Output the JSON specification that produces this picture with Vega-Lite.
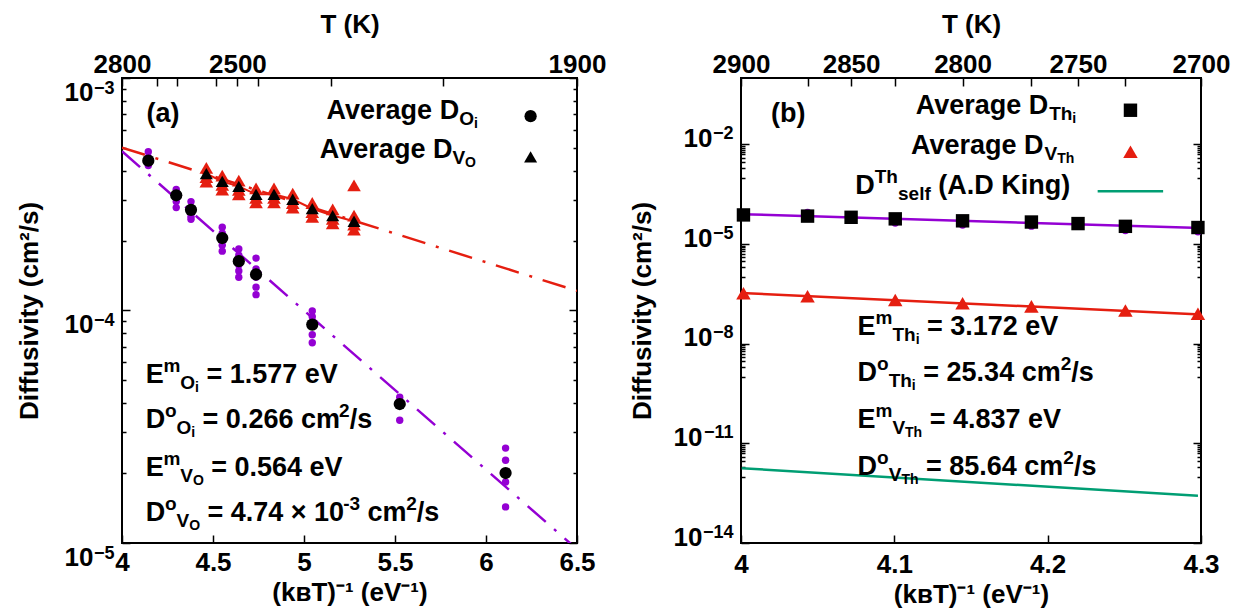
{
"$schema": "https://vega.github.io/schema/vega-lite/v6.json",
"padding": {"left": 15, "top": 10, "right": 0, "bottom": 0},
"background": "white",
"spacing": 21,
"config": {
  "font": "Liberation Sans",
  "view": {"stroke": "black", "strokeWidth": 2},
  "axis": {"domain": false, "grid": false, "labelFont": "Liberation Sans", "labelFontWeight": "bold", "labelFontSize": 26, "labelColor": "black", "titleFont": "Liberation Sans", "titleFontWeight": "bold", "titleFontSize": 26, "titleColor": "black", "tickColor": "black", "tickWidth": 1.5, "labelOverlap": false, "labelFlush": false}
},
"datasets": {
  "fitA": [
    {"s": "V", "x": 4, "y": 0.000502}, {"s": "V", "x": 6.5, "y": 0.0001214},
    {"s": "O", "x": 4, "y": 0.000484}, {"s": "O", "x": 6.5, "y": 0.0000094}
  ],
  "triA": [
    {"x": 4.4633, "y": 0.000388, "leg": 0}, {"x": 4.5508, "y": 0.000359, "leg": 0}, {"x": 4.6418, "y": 0.000342, "leg": 0},
    {"x": 4.7365, "y": 0.000316, "leg": 0}, {"x": 4.8352, "y": 0.000316, "leg": 0}, {"x": 4.9381, "y": 0.000301, "leg": 0},
    {"x": 5.0454, "y": 0.000274, "leg": 0}, {"x": 5.1576, "y": 0.000256, "leg": 0}, {"x": 5.2748, "y": 0.000242, "leg": 0},
    {"x": 6.245, "y": 0.000458, "leg": 1}
  ],
  "redA": [
    {"x": 4.4633, "y": 0.000411}, {"x": 4.4633, "y": 0.000375}, {"x": 4.4633, "y": 0.000358},
    {"x": 4.5508, "y": 0.000380}, {"x": 4.5508, "y": 0.000347}, {"x": 4.5508, "y": 0.000331},
    {"x": 4.6418, "y": 0.000362}, {"x": 4.6418, "y": 0.000330}, {"x": 4.6418, "y": 0.000316},
    {"x": 4.7365, "y": 0.000335}, {"x": 4.7365, "y": 0.000305}, {"x": 4.7365, "y": 0.000292},
    {"x": 4.8352, "y": 0.000335}, {"x": 4.8352, "y": 0.000305}, {"x": 4.8352, "y": 0.000292},
    {"x": 4.9381, "y": 0.000318}, {"x": 4.9381, "y": 0.000290}, {"x": 4.9381, "y": 0.000277},
    {"x": 5.0454, "y": 0.000290}, {"x": 5.0454, "y": 0.000265}, {"x": 5.0454, "y": 0.000253},
    {"x": 5.1576, "y": 0.000272}, {"x": 5.1576, "y": 0.000248}, {"x": 5.1576, "y": 0.000237},
    {"x": 5.2748, "y": 0.000256}, {"x": 5.2748, "y": 0.000234}, {"x": 5.2748, "y": 0.000223},
    {"x": 5.2748, "y": 0.000345}
  ],
  "circA": [
    {"x": 4.1445, "y": 0.000441}, {"x": 4.298, "y": 0.000313}, {"x": 4.3791, "y": 0.000271},
    {"x": 4.5508, "y": 0.000205}, {"x": 4.6418, "y": 0.000163}, {"x": 4.7365, "y": 0.000143},
    {"x": 5.0454, "y": 0.000087}, {"x": 5.526, "y": 0.0000396}, {"x": 6.1076, "y": 0.00002},
    {"x": 6.245, "y": 0.000685}
  ],
  "purpA": [
    {"x": 4.1445, "y": 0.000482}, {"x": 4.1445, "y": 0.000455}, {"x": 4.1445, "y": 0.00042},
    {"x": 4.298, "y": 0.000332}, {"x": 4.298, "y": 0.000318}, {"x": 4.298, "y": 0.000294}, {"x": 4.298, "y": 0.000277},
    {"x": 4.3791, "y": 0.000294}, {"x": 4.3791, "y": 0.000277}, {"x": 4.3791, "y": 0.000254}, {"x": 4.3791, "y": 0.000247},
    {"x": 4.5508, "y": 0.000228}, {"x": 4.5508, "y": 0.000215}, {"x": 4.5508, "y": 0.000191}, {"x": 4.5508, "y": 0.00018},
    {"x": 4.6418, "y": 0.000184}, {"x": 4.6418, "y": 0.000173}, {"x": 4.6418, "y": 0.000157}, {"x": 4.6418, "y": 0.000148}, {"x": 4.6418, "y": 0.000139},
    {"x": 4.7365, "y": 0.000168}, {"x": 4.7365, "y": 0.000151}, {"x": 4.7365, "y": 0.000139}, {"x": 4.7365, "y": 0.000126}, {"x": 4.7365, "y": 0.000117},
    {"x": 5.0454, "y": 0.0000995}, {"x": 5.0454, "y": 0.000094}, {"x": 5.0454, "y": 0.0000867}, {"x": 5.0454, "y": 0.0000787}, {"x": 5.0454, "y": 0.0000726},
    {"x": 5.526, "y": 0.0000424}, {"x": 5.526, "y": 0.0000394}, {"x": 5.526, "y": 0.0000337},
    {"x": 6.1076, "y": 0.0000256}, {"x": 6.1076, "y": 0.0000227}, {"x": 6.1076, "y": 0.0000183}, {"x": 6.1076, "y": 0.0000143}
  ],
  "txtA": [
    {"x": 4.135, "y": 0.000649, "t": "(a)", "r": "m"},
    {"x": 5.124, "y": 0.000668, "t": "Average D", "r": "m"},
    {"x": 5.8527, "y": 0.000668, "t": "O", "r": "b"},
    {"x": 5.9335, "y": 0.000668, "t": "i", "r": "bb"},
    {"x": 5.087, "y": 0.000454, "t": "Average D", "r": "m"},
    {"x": 5.8157, "y": 0.000454, "t": "V", "r": "b"},
    {"x": 5.885, "y": 0.000454, "t": "O", "r": "bb"},
    {"x": 4.13, "y": 0.000049, "t": "E", "r": "m"},
    {"x": 4.2283, "y": 0.000049, "t": "m", "r": "p"},
    {"x": 4.3205, "y": 0.000049, "t": "O", "r": "b"},
    {"x": 4.4013, "y": 0.000049, "t": "i", "r": "bb"},
    {"x": 4.4636, "y": 0.000049, "t": "= 1.577 eV", "r": "m"},
    {"x": 4.13, "y": 0.0000311, "t": "D", "r": "m"},
    {"x": 4.2364, "y": 0.0000311, "t": "o", "r": "p"},
    {"x": 4.2998, "y": 0.0000311, "t": "O", "r": "b"},
    {"x": 4.3805, "y": 0.0000311, "t": "i", "r": "bb"},
    {"x": 4.4428, "y": 0.0000311, "t": "= 0.266 cm", "r": "m"},
    {"x": 5.1928, "y": 0.0000311, "t": "2", "r": "p"},
    {"x": 5.2507, "y": 0.0000311, "t": "/s", "r": "m"},
    {"x": 4.13, "y": 0.0000195, "t": "E", "r": "m"},
    {"x": 4.2283, "y": 0.0000195, "t": "m", "r": "p"},
    {"x": 4.3205, "y": 0.0000195, "t": "V", "r": "b"},
    {"x": 4.3898, "y": 0.0000195, "t": "O", "r": "bb"},
    {"x": 4.4903, "y": 0.0000195, "t": "= 0.564 eV", "r": "m"},
    {"x": 4.13, "y": 0.0000124, "t": "D", "r": "m"},
    {"x": 4.2364, "y": 0.0000124, "t": "o", "r": "p"},
    {"x": 4.2998, "y": 0.0000124, "t": "V", "r": "b"},
    {"x": 4.3691, "y": 0.0000124, "t": "O", "r": "bb"},
    {"x": 4.4696, "y": 0.0000124, "t": "= 4.74 × 10", "r": "m"},
    {"x": 5.2151, "y": 0.0000124, "t": "-3", "r": "p"},
    {"x": 5.3484, "y": 0.0000124, "t": "cm", "r": "m"},
    {"x": 5.5612, "y": 0.0000124, "t": "2", "r": "p"},
    {"x": 5.6191, "y": 0.0000124, "t": "/s", "r": "m"}
  ],
  "fitB": [
    {"s": "P", "x": 4, "y": 0.0000796}, {"s": "P", "x": 4.3, "y": 0.0000306},
    {"s": "R", "x": 4, "y": 3.39e-7}, {"s": "R", "x": 4.3, "y": 7.55e-8},
    {"s": "G", "x": 4.0005, "y": 1.79e-12}, {"s": "G", "x": 4.298, "y": 2.64e-13},
    {"s": "L", "x": 4.2326, "y": 0.000387}, {"s": "L", "x": 4.2753, "y": 0.000387}
  ],
  "purpB": [
    {"x": 4.0434, "y": 0.00009}, {"x": 4.1006, "y": 0.000043}, {"x": 4.1445, "y": 0.0000376},
    {"x": 4.1894, "y": 0.0000346}, {"x": 4.2507, "y": 0.0000256}, {"x": 4.298, "y": 0.0000236}
  ],
  "sqB": [
    {"x": 4.0016, "y": 0.0000754}, {"x": 4.0434, "y": 0.0000695}, {"x": 4.0718, "y": 0.000064},
    {"x": 4.1006, "y": 0.0000574}, {"x": 4.1445, "y": 0.0000501}, {"x": 4.1894, "y": 0.0000461},
    {"x": 4.2198, "y": 0.0000414}, {"x": 4.2507, "y": 0.0000342}, {"x": 4.298, "y": 0.0000315},
    {"x": 4.254, "y": 0.107}
  ],
  "triB": [
    {"x": 4.0016, "y": 3.31e-7}, {"x": 4.0434, "y": 2.69e-7}, {"x": 4.1006, "y": 2.07e-7},
    {"x": 4.1445, "y": 1.66e-7}, {"x": 4.1894, "y": 1.33e-7}, {"x": 4.2507, "y": 1.0e-7},
    {"x": 4.298, "y": 7.94e-8}, {"x": 4.254, "y": 0.006}
  ],
  "txtB": [
    {"x": 4.0195, "y": 0.0468, "t": "(b)", "r": "m"},
    {"x": 4.1139, "y": 0.081, "t": "Average D", "r": "m"},
    {"x": 4.201, "y": 0.081, "t": "Th", "r": "b"},
    {"x": 4.2161, "y": 0.081, "t": "i", "r": "bb"},
    {"x": 4.1108, "y": 0.00525, "t": "Average D", "r": "m"},
    {"x": 4.1979, "y": 0.00525, "t": "V", "r": "b"},
    {"x": 4.2062, "y": 0.00525, "t": "Th", "r": "bb"},
    {"x": 4.0745, "y": 0.000321, "t": "D", "r": "m"},
    {"x": 4.0872, "y": 0.000321, "t": "Th", "r": "p"},
    {"x": 4.1024, "y": 0.000321, "t": "self", "r": "b"},
    {"x": 4.1286, "y": 0.000321, "t": "(A.D King)", "r": "m"},
    {"x": 4.076, "y": 1.77e-8, "t": "E", "r": "m"},
    {"x": 4.0877, "y": 1.77e-8, "t": "m", "r": "p"},
    {"x": 4.0988, "y": 1.77e-8, "t": "Th", "r": "b"},
    {"x": 4.1139, "y": 1.77e-8, "t": "i", "r": "bb"},
    {"x": 4.1213, "y": 1.77e-8, "t": "= 3.172 eV", "r": "m"},
    {"x": 4.076, "y": 7.57e-10, "t": "D", "r": "m"},
    {"x": 4.0887, "y": 7.57e-10, "t": "o", "r": "p"},
    {"x": 4.0963, "y": 7.57e-10, "t": "Th", "r": "b"},
    {"x": 4.1114, "y": 7.57e-10, "t": "i", "r": "bb"},
    {"x": 4.1189, "y": 7.57e-10, "t": "= 25.34 cm", "r": "m"},
    {"x": 4.2085, "y": 7.57e-10, "t": "2", "r": "p"},
    {"x": 4.2154, "y": 7.57e-10, "t": "/s", "r": "m"},
    {"x": 4.076, "y": 2.83e-11, "t": "E", "r": "m"},
    {"x": 4.0877, "y": 2.83e-11, "t": "m", "r": "p"},
    {"x": 4.0988, "y": 2.83e-11, "t": "V", "r": "b"},
    {"x": 4.107, "y": 2.83e-11, "t": "Th", "r": "bb"},
    {"x": 4.1231, "y": 2.83e-11, "t": "= 4.837 eV", "r": "m"},
    {"x": 4.076, "y": 1.15e-12, "t": "D", "r": "m"},
    {"x": 4.0887, "y": 1.15e-12, "t": "o", "r": "p"},
    {"x": 4.0963, "y": 1.15e-12, "t": "V", "r": "b"},
    {"x": 4.1046, "y": 1.15e-12, "t": "Th", "r": "bb"},
    {"x": 4.1206, "y": 1.15e-12, "t": "= 85.64 cm", "r": "m"},
    {"x": 4.2102, "y": 1.15e-12, "t": "2", "r": "p"},
    {"x": 4.2171, "y": 1.15e-12, "t": "/s", "r": "m"}
  ]
},
"hconcat": [
{
  "width": 455, "height": 465,
  "resolve": {"axis": {"x": "independent", "y": "independent"}},
  "layer": [
    {"data": {"name": "fitA"}, "transform": [{"filter": "datum.s == 'V'"}],
     "mark": {"type": "line", "color": "#e51e10", "strokeWidth": 2.5, "strokeDash": [24, 11, 3, 11], "clip": true},
     "encoding": {
       "x": {"field": "x", "type": "quantitative", "scale": {"domain": [4, 6.5], "nice": false, "zero": false},
             "axis": {"orient": "bottom", "values": [4, 4.5, 5, 5.5, 6, 6.5], "format": "~g", "tickSize": -8, "labelPadding": 14, "title": "(kʙT)⁻¹ (eV⁻¹)", "titlePadding": 4}},
       "y": {"field": "y", "type": "quantitative", "scale": {"type": "log", "domain": [0.00001, 0.001], "nice": false},
             "axis": {"orient": "left", "values": [0.00001, 0.0001, 0.001], "labelExpr": "'10'", "tickSize": -8, "labelPadding": 37, "labelBaseline": "middle", "labelOffset": 14, "title": "Diffusivity (cm²/s)", "titlePadding": 22}}
     }},
    {"data": {"name": "fitA"}, "transform": [{"filter": "datum.s == 'O'"}],
     "mark": {"type": "line", "color": "#9400d3", "strokeWidth": 2.5, "strokeDash": [24, 11, 3, 11], "clip": true},
     "encoding": {
       "x": {"field": "x", "type": "quantitative", "scale": {"domain": [4, 6.5], "nice": false, "zero": false},
             "axis": {"orient": "top", "values": [4, 4.195, 4.303, 4.518, 4.634, 4.748, 5.149, 5.763, 6.5], "labelExpr": "datum.value == 4 ? '2800' : datum.value == 4.634 ? '2500' : datum.value == 6.5 ? '1900' : ''", "tickSize": -8, "labelPadding": 9, "title": "T (K)", "titlePadding": 14}},
       "y": {"field": "y", "type": "quantitative", "scale": {"type": "log", "domain": [0.00001, 0.001], "nice": false},
             "axis": {"orient": "left", "values": [0.00001, 0.0001, 0.001], "labelExpr": "datum.value > 0.0005 ? '−3' : datum.value > 0.00005 ? '−4' : '−5'", "ticks": false, "tickSize": 0, "labelPadding": 8, "labelFontSize": 18, "labelBaseline": "middle", "labelOffset": 10, "title": null}}
     }},
    {"data": {"name": "triA"}, "transform": [{"filter": "datum.leg == 0"}],
     "mark": {"type": "line", "color": "#e51e10", "strokeWidth": 2},
     "encoding": {
       "x": {"field": "x", "type": "quantitative", "scale": {"domain": [4, 6.5], "nice": false, "zero": false}, "axis": null},
       "y": {"field": "y", "type": "quantitative", "scale": {"type": "log", "domain": [0.00001, 0.001], "nice": false},
             "axis": {"orient": "left", "values": [0.00002, 0.00003, 0.00004, 0.00005, 0.00006, 0.00007, 0.00008, 0.00009, 0.0002, 0.0003, 0.0004, 0.0005, 0.0006, 0.0007, 0.0008, 0.0009], "labels": false, "tickSize": -4, "title": null}}
     }},
    {"data": {"name": "purpA"},
     "mark": {"type": "point", "shape": "circle", "filled": true, "color": "#9400d3", "size": 55, "opacity": 1},
     "encoding": {
       "x": {"field": "x", "type": "quantitative", "scale": {"domain": [4, 6.5], "nice": false, "zero": false}, "axis": null},
       "y": {"field": "y", "type": "quantitative", "scale": {"type": "log", "domain": [0.00001, 0.001], "nice": false},
             "axis": {"orient": "right", "values": [0.00001, 0.0001, 0.001], "labels": false, "tickSize": -8, "title": null}}
     }},
    {"data": {"name": "redA"},
     "mark": {"type": "point", "shape": "triangle-up", "filled": true, "color": "#e51e10", "size": 185, "opacity": 1},
     "encoding": {
       "x": {"field": "x", "type": "quantitative", "scale": {"domain": [4, 6.5], "nice": false, "zero": false}, "axis": null},
       "y": {"field": "y", "type": "quantitative", "scale": {"type": "log", "domain": [0.00001, 0.001], "nice": false},
             "axis": {"orient": "right", "values": [0.00002, 0.00003, 0.00004, 0.00005, 0.00006, 0.00007, 0.00008, 0.00009, 0.0002, 0.0003, 0.0004, 0.0005, 0.0006, 0.0007, 0.0008, 0.0009], "labels": false, "tickSize": -4, "title": null}}
     }},
    {"data": {"name": "circA"},
     "mark": {"type": "point", "shape": "circle", "filled": true, "color": "black", "size": 150, "opacity": 1},
     "encoding": {
       "x": {"field": "x", "type": "quantitative", "scale": {"domain": [4, 6.5], "nice": false, "zero": false}, "axis": null},
       "y": {"field": "y", "type": "quantitative", "scale": {"type": "log", "domain": [0.00001, 0.001], "nice": false}, "axis": null}
     }},
    {"data": {"name": "triA"},
     "mark": {"type": "point", "shape": "triangle-up", "filled": true, "color": "black", "size": 170, "opacity": 1},
     "encoding": {
       "x": {"field": "x", "type": "quantitative", "scale": {"domain": [4, 6.5], "nice": false, "zero": false}, "axis": null},
       "y": {"field": "y", "type": "quantitative", "scale": {"type": "log", "domain": [0.00001, 0.001], "nice": false}, "axis": null}
     }},
    {"data": {"name": "txtA"}, "transform": [{"filter": "datum.r == 'm'"}],
     "mark": {"type": "text", "align": "left", "baseline": "alphabetic", "font": "Liberation Sans", "fontWeight": "bold", "fontSize": 27, "color": "black"},
     "encoding": {
       "x": {"field": "x", "type": "quantitative", "scale": {"domain": [4, 6.5], "nice": false, "zero": false}, "axis": null},
       "y": {"field": "y", "type": "quantitative", "scale": {"type": "log", "domain": [0.00001, 0.001], "nice": false}, "axis": null},
       "text": {"field": "t"}
     }},
    {"data": {"name": "txtA"}, "transform": [{"filter": "datum.r == 'p'"}],
     "mark": {"type": "text", "align": "left", "baseline": "alphabetic", "font": "Liberation Sans", "fontWeight": "bold", "fontSize": 19, "dy": -11, "color": "black"},
     "encoding": {
       "x": {"field": "x", "type": "quantitative", "scale": {"domain": [4, 6.5], "nice": false, "zero": false}, "axis": null},
       "y": {"field": "y", "type": "quantitative", "scale": {"type": "log", "domain": [0.00001, 0.001], "nice": false}, "axis": null},
       "text": {"field": "t"}
     }},
    {"data": {"name": "txtA"}, "transform": [{"filter": "datum.r == 'b'"}],
     "mark": {"type": "text", "align": "left", "baseline": "alphabetic", "font": "Liberation Sans", "fontWeight": "bold", "fontSize": 19, "dy": 6, "color": "black"},
     "encoding": {
       "x": {"field": "x", "type": "quantitative", "scale": {"domain": [4, 6.5], "nice": false, "zero": false}, "axis": null},
       "y": {"field": "y", "type": "quantitative", "scale": {"type": "log", "domain": [0.00001, 0.001], "nice": false}, "axis": null},
       "text": {"field": "t"}
     }},
    {"data": {"name": "txtA"}, "transform": [{"filter": "datum.r == 'bb'"}],
     "mark": {"type": "text", "align": "left", "baseline": "alphabetic", "font": "Liberation Sans", "fontWeight": "bold", "fontSize": 14, "dy": 9, "color": "black"},
     "encoding": {
       "x": {"field": "x", "type": "quantitative", "scale": {"domain": [4, 6.5], "nice": false, "zero": false}, "axis": null},
       "y": {"field": "y", "type": "quantitative", "scale": {"type": "log", "domain": [0.00001, 0.001], "nice": false}, "axis": null},
       "text": {"field": "t"}
     }}
  ]
},
{
  "width": 460, "height": 465,
  "resolve": {"axis": {"x": "independent", "y": "independent"}},
  "layer": [
    {"data": {"name": "fitB"}, "transform": [{"filter": "datum.s == 'P'"}],
     "mark": {"type": "line", "color": "#9400d3", "strokeWidth": 2.5},
     "encoding": {
       "x": {"field": "x", "type": "quantitative", "scale": {"domain": [4, 4.3], "nice": false, "zero": false},
             "axis": {"orient": "bottom", "values": [4, 4.1, 4.2, 4.3], "format": "~g", "tickSize": -8, "labelPadding": 16, "title": "(kʙT)⁻¹ (eV⁻¹)", "titlePadding": 4}},
       "y": {"field": "y", "type": "quantitative", "scale": {"type": "log", "domain": [1e-14, 1], "nice": false},
             "axis": {"orient": "left", "values": [1e-14, 1e-11, 1e-8, 0.00001, 0.01], "labelExpr": "datum.value > 1e-10 ? '10' : ''", "tickSize": -8, "labelPadding": 37, "labelBaseline": "middle", "labelOffset": -6, "title": null}}
     }},
    {"data": {"name": "fitB"}, "transform": [{"filter": "datum.s == 'R'"}],
     "mark": {"type": "line", "color": "#e51e10", "strokeWidth": 2.5},
     "encoding": {
       "x": {"field": "x", "type": "quantitative", "scale": {"domain": [4, 4.3], "nice": false, "zero": false},
             "axis": {"orient": "top", "values": [4, 4.0434, 4.0718, 4.1006, 4.1445, 4.1894, 4.2198, 4.2507, 4.3], "labelExpr": "datum.value == 4 ? '2900' : datum.value == 4.0718 ? '2850' : datum.value == 4.1445 ? '2800' : datum.value == 4.2198 ? '2750' : datum.value == 4.3 ? '2700' : ''", "tickSize": -8, "labelPadding": 9, "title": "T (K)", "titlePadding": 14}},
       "y": {"field": "y", "type": "quantitative", "scale": {"type": "log", "domain": [1e-14, 1], "nice": false},
             "axis": {"orient": "left", "values": [1e-14, 1e-11], "labelExpr": "'10'", "ticks": false, "tickSize": 0, "labelPadding": 39, "labelBaseline": "middle", "labelOffset": -6, "title": "Diffusivity (cm²/s)", "titlePadding": 18}}
     }},
    {"data": {"name": "fitB"}, "transform": [{"filter": "datum.s == 'G' || datum.s == 'L'"}],
     "mark": {"type": "line", "color": "#009e73", "strokeWidth": 2.5},
     "encoding": {
       "x": {"field": "x", "type": "quantitative", "scale": {"domain": [4, 4.3], "nice": false, "zero": false}, "axis": null},
       "y": {"field": "y", "type": "quantitative", "scale": {"type": "log", "domain": [1e-14, 1], "nice": false},
             "axis": {"orient": "left", "values": [1e-14, 1e-11, 1e-8, 0.00001, 0.01], "labelExpr": "datum.value > 0.001 ? '−2' : datum.value > 0.000001 ? '−5' : datum.value > 1e-9 ? '−8' : datum.value > 1e-12 ? '−11' : '−14'", "ticks": false, "tickSize": 0, "labelPadding": 8, "labelFontSize": 18, "labelBaseline": "middle", "labelOffset": -11, "title": null}},
       "detail": {"field": "s"}
     }},
    {"data": {"name": "purpB"},
     "mark": {"type": "point", "shape": "circle", "filled": true, "color": "#9400d3", "size": 55, "opacity": 1},
     "encoding": {
       "x": {"field": "x", "type": "quantitative", "scale": {"domain": [4, 4.3], "nice": false, "zero": false}, "axis": null},
       "y": {"field": "y", "type": "quantitative", "scale": {"type": "log", "domain": [1e-14, 1], "nice": false},
             "axis": {"orient": "left", "values": [0.001, 0.002, 0.003, 0.004, 0.005, 0.006, 0.007, 0.008, 0.009, 0.000001, 0.000002, 0.000003, 0.000004, 0.000005, 0.000006, 0.000007, 0.000008, 0.000009, 1e-9, 2e-9, 3e-9, 4e-9, 5e-9, 6e-9, 7e-9, 8e-9, 9e-9, 1e-12, 2e-12, 3e-12, 4e-12, 5e-12, 6e-12, 7e-12, 8e-12, 9e-12], "labels": false, "tickSize": -4, "title": null}}
     }},
    {"data": {"name": "sqB"},
     "mark": {"type": "point", "shape": "square", "filled": true, "color": "black", "size": 180, "opacity": 1},
     "encoding": {
       "x": {"field": "x", "type": "quantitative", "scale": {"domain": [4, 4.3], "nice": false, "zero": false}, "axis": null},
       "y": {"field": "y", "type": "quantitative", "scale": {"type": "log", "domain": [1e-14, 1], "nice": false},
             "axis": {"orient": "right", "values": [1e-14, 1e-11, 1e-8, 0.00001, 0.01], "labels": false, "tickSize": -8, "title": null}}
     }},
    {"data": {"name": "triB"},
     "mark": {"type": "point", "shape": "triangle-up", "filled": true, "color": "#e51e10", "size": 210, "opacity": 1},
     "encoding": {
       "x": {"field": "x", "type": "quantitative", "scale": {"domain": [4, 4.3], "nice": false, "zero": false}, "axis": null},
       "y": {"field": "y", "type": "quantitative", "scale": {"type": "log", "domain": [1e-14, 1], "nice": false},
             "axis": {"orient": "right", "values": [0.001, 0.002, 0.003, 0.004, 0.005, 0.006, 0.007, 0.008, 0.009, 0.000001, 0.000002, 0.000003, 0.000004, 0.000005, 0.000006, 0.000007, 0.000008, 0.000009, 1e-9, 2e-9, 3e-9, 4e-9, 5e-9, 6e-9, 7e-9, 8e-9, 9e-9, 1e-12, 2e-12, 3e-12, 4e-12, 5e-12, 6e-12, 7e-12, 8e-12, 9e-12], "labels": false, "tickSize": -4, "title": null}}
     }},
    {"data": {"name": "txtB"}, "transform": [{"filter": "datum.r == 'm'"}],
     "mark": {"type": "text", "align": "left", "baseline": "alphabetic", "font": "Liberation Sans", "fontWeight": "bold", "fontSize": 27, "color": "black"},
     "encoding": {
       "x": {"field": "x", "type": "quantitative", "scale": {"domain": [4, 4.3], "nice": false, "zero": false}, "axis": null},
       "y": {"field": "y", "type": "quantitative", "scale": {"type": "log", "domain": [1e-14, 1], "nice": false}, "axis": null},
       "text": {"field": "t"}
     }},
    {"data": {"name": "txtB"}, "transform": [{"filter": "datum.r == 'p'"}],
     "mark": {"type": "text", "align": "left", "baseline": "alphabetic", "font": "Liberation Sans", "fontWeight": "bold", "fontSize": 19, "dy": -11, "color": "black"},
     "encoding": {
       "x": {"field": "x", "type": "quantitative", "scale": {"domain": [4, 4.3], "nice": false, "zero": false}, "axis": null},
       "y": {"field": "y", "type": "quantitative", "scale": {"type": "log", "domain": [1e-14, 1], "nice": false}, "axis": null},
       "text": {"field": "t"}
     }},
    {"data": {"name": "txtB"}, "transform": [{"filter": "datum.r == 'b'"}],
     "mark": {"type": "text", "align": "left", "baseline": "alphabetic", "font": "Liberation Sans", "fontWeight": "bold", "fontSize": 19, "dy": 6, "color": "black"},
     "encoding": {
       "x": {"field": "x", "type": "quantitative", "scale": {"domain": [4, 4.3], "nice": false, "zero": false}, "axis": null},
       "y": {"field": "y", "type": "quantitative", "scale": {"type": "log", "domain": [1e-14, 1], "nice": false}, "axis": null},
       "text": {"field": "t"}
     }},
    {"data": {"name": "txtB"}, "transform": [{"filter": "datum.r == 'bb'"}],
     "mark": {"type": "text", "align": "left", "baseline": "alphabetic", "font": "Liberation Sans", "fontWeight": "bold", "fontSize": 14, "dy": 9, "color": "black"},
     "encoding": {
       "x": {"field": "x", "type": "quantitative", "scale": {"domain": [4, 4.3], "nice": false, "zero": false}, "axis": null},
       "y": {"field": "y", "type": "quantitative", "scale": {"type": "log", "domain": [1e-14, 1], "nice": false}, "axis": null},
       "text": {"field": "t"}
     }}
  ]
}
]
}
